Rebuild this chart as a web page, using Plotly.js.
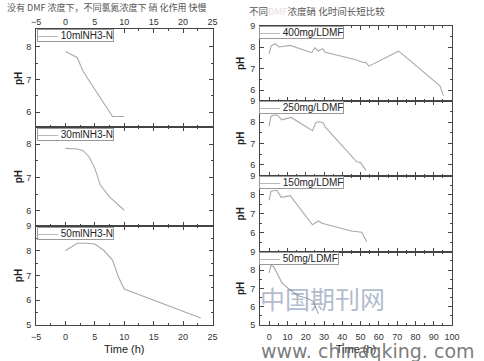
<!DOCTYPE html>
<html><head><meta charset="utf-8">
<script src="https://cdn.plot.ly/plotly-3.0.1.min.js"></script>
<style>body{margin:0;background:#fff}#c{width:484px;height:361px}</style>
</head><body><div id="c"></div>
<script>
// ---- data ----
const names = ["10mlNH3-N", "30mlNH3-N", "50mlNH3-N", "400mg/LDMF", "250mg/LDMF", "150mg/LDMF", "50mg/LDMF"];
const t10 = [0, 2, 3, 5, 7, 8, 10];
const ph10 = [7.85, 7.67, 7.25, 6.7, 6.15, 5.87, 5.87];
const t30 = [0, 2, 3, 4, 5, 5.9, 7.5, 10];
const ph30 = [7.87, 7.85, 7.8, 7.62, 7.28, 6.78, 6.42, 6.02];
const t50 = [0, 2, 3.5, 5, 6.5, 8, 9, 10, 23];
const ph50 = [8.0, 8.3, 8.3, 8.27, 8.02, 7.62, 6.95, 6.45, 5.28];
const d400t = [0, 1, 3.3, 5.5, 11.5, 23.3, 25, 27, 29.3, 30.6, 47, 51.5, 52.8, 54.6, 70.7, 74.3, 93.4, 95.3];
const d400 = [7.68, 8.06, 8.17, 8.02, 8.09, 7.75, 7.98, 7.83, 7.94, 7.77, 7.43, 7.29, 7.3, 7.12, 7.82, 7.58, 6.2, 5.74];
const d250t = [0, 1, 3.3, 4.7, 6.9, 12, 23.7, 25.5, 27.3, 29.5, 30.6, 47.9, 50.1, 53];
const d250 = [7.81, 8.28, 8.34, 8.31, 8.11, 8.22, 7.6, 7.97, 8.02, 7.97, 7.78, 6.15, 6.1, 5.74];
const d150t = [0, 1, 4.2, 6.6, 11.5, 23.7, 27, 28.8, 45, 50.6, 53.4];
const d150 = [7.7, 8.18, 8.23, 7.86, 7.95, 6.42, 6.62, 6.5, 6.09, 6.02, 5.53];
const d50t = [0, 1, 2.5, 4, 7, 11, 16, 21, 24, 27];
const d50 = [7.85, 8.25, 8.18, 7.9, 7.3, 6.95, 6.6, 6.45, 6.3, 5.6];
const leftTitle = "没有 DMF 浓度下，不同氯氮浓度下 硝 化作用 快慢";
const rightTitle = '不同<span style="color:#e6dcdc">DMF</span>浓度硝 化时间长短比较';
const xTitle = "Time (h)";
const yTitle = "pH";

// ---- layout helpers ----
const W = 484, H = 361;
const yd = (top, bot) => [(H - bot) / H, (H - top) / H];
const xL = [36 / W, 212.5 / W], xR = [260 / W, 452 / W];
const lineCol = "#a9a9a9";
const frame = "#444";
const tfont = {family: "Arial, Liberation Sans, sans-serif", size: 9, color: "#333"};

const series = [
  [t10, ph10], [t30, ph30], [t50, ph50],
  [d400t, d400], [d250t, d250], [d150t, d150], [d50t, d50]
];
const traces = series.map((s, i) => ({
  type: "scatter", mode: "lines", x: s[0], y: s[1], name: names[i],
  xaxis: i === 0 ? "x" : "x" + (i + 1), yaxis: i === 0 ? "y" : "y" + (i + 1),
  line: {color: lineCol, width: 1.1}, showlegend: false, hoverinfo: "skip"
}));

function xax(domain, range, dtick, opts) {
  return Object.assign({
    domain: domain, range: range, dtick: dtick, tick0: 0,
    showline: true, mirror: "ticks", linecolor: frame, linewidth: 1,
    ticks: "inside", ticklen: 4, tickcolor: frame, tickwidth: 1,
    minor: {ticks: "inside", ticklen: 2, dtick: dtick / 2, tickcolor: frame},
    showgrid: false, zeroline: false, showticklabels: false, tickfont: tfont,
    fixedrange: true
  }, opts || {});
}
function yax(domain, range, tickvals, anchor, standoff, opts) {
  return Object.assign({
    domain: domain, range: range, tickvals: tickvals, anchor: anchor,
    showline: true, mirror: "ticks", linecolor: frame, linewidth: 1,
    ticks: "inside", ticklen: 4, tickcolor: frame, tickwidth: 1,
    minor: {ticks: "inside", ticklen: 2, dtick: 0.5, tick0: 0, tickcolor: frame},
    showgrid: false, zeroline: false, tickfont: tfont, ticklabelstandoff: 2,
    title: {text: yTitle, font: {family: "Arial, sans-serif", size: 10, color: "#222", weight: "bold"}, standoff: standoff},
    fixedrange: true
  }, opts || {});
}

const dL1 = yd(29.3, 127.3), dL2 = yd(127.3, 226), dL3 = yd(226, 325);
const dR1 = yd(26, 100.7), dR2 = yd(100.7, 175.7), dR3 = yd(175.7, 251.7), dR4 = yd(251.7, 325);

const layout = {
  width: W, height: H, margin: {l: 0, r: 0, t: 0, b: 0},
  paper_bgcolor: "#fff", plot_bgcolor: "#fff", showlegend: false,
  font: {family: "Arial, sans-serif"},
  xaxis:  xax(xL, [-5, 25], 5, {anchor: "y", side: "top", showticklabels: true}),
  xaxis2: xax(xL, [-5, 25], 5, {anchor: "y2"}),
  xaxis3: xax(xL, [-5, 25], 5, {anchor: "y3", showticklabels: true, ticklabelstandoff: 3,
           title: {text: xTitle, font: {family: "Arial, sans-serif", size: 11, color: "#222"}, standoff: 4}}),
  xaxis4: xax(xR, [-5, 100], 10, {anchor: "y4"}),
  xaxis5: xax(xR, [-5, 100], 10, {anchor: "y5"}),
  xaxis6: xax(xR, [-5, 100], 10, {anchor: "y6"}),
  xaxis7: xax(xR, [-5, 100], 10, {anchor: "y7", showticklabels: true, ticklabelstandoff: 3,
           title: {text: xTitle, font: {family: "Arial, sans-serif", size: 11, color: "#222"}, standoff: 4}}),
  yaxis:  yax(dL1, [5.54, 8.53], [6, 7, 8], "x", 1),
  yaxis2: yax(dL2, [5.55, 8.5], [6, 7, 8], "x2", 1),
  yaxis3: yax(dL3, [5, 9], [5, 6, 7, 8, 9], "x3", 1),
  yaxis4: yax(dR1, [5.5, 9], [6, 7, 8, 9], "x4", 3),
  yaxis5: yax(dR2, [5.5, 9], [6, 7, 8, 9], "x5", 3),
  yaxis6: yax(dR3, [5, 9], [6, 7, 8, 9], "x6", 3),
  yaxis7: yax(dR4, [5, 9], [5, 6, 7, 8, 9], "x7", 3),
  annotations: []
};

// legend boxes (one per panel)
const legPos = [[37, 29.3], [37, 127.8], [37, 226.5], [259, 26.5], [259, 101.2], [259, 176.2], [259, 252.2]];
names.forEach((n, i) => {
  layout.annotations.push({
    xref: "paper", yref: "paper", x: legPos[i][0] / W, y: (H - legPos[i][1]) / H,
    xanchor: "left", yanchor: "top", showarrow: false, align: "left",
    text: '<span style="color:' + lineCol + '">——</span> ' + n,
    font: {family: "Arial, sans-serif", size: 10, color: "#222"},
    bgcolor: "#fff", bordercolor: "#999", borderwidth: 1, borderpad: 0
  });
});

// titles
layout.annotations.push({
  xref: "paper", yref: "paper", x: 107 / W, y: (H - 7) / H, xanchor: "center", yanchor: "middle",
  showarrow: false, text: leftTitle, font: {family: "Noto Sans CJK SC", size: 9, color: "#555"}
});
layout.annotations.push({
  xref: "paper", yref: "paper", x: 247 / W, y: (H - 11) / H, xanchor: "left", yanchor: "middle",
  showarrow: false, text: rightTitle, font: {family: "Noto Sans CJK SC", size: 9.5, color: "#555"}
});
// watermark
layout.annotations.push({
  xref: "paper", yref: "paper", x: 322 / W, y: (H - 298) / H, xanchor: "center", yanchor: "middle",
  showarrow: false, text: "中国期刊网", font: {family: "Noto Sans CJK SC", size: 25, color: "rgba(110,130,160,0.55)"}
});
layout.annotations.push({
  xref: "paper", yref: "paper", x: 368 / W, y: (H - 351) / H, xanchor: "center", yanchor: "middle",
  showarrow: false, text: "www. chinaqking. com", font: {family: "DejaVu Sans", size: 19, color: "rgba(100,100,100,0.85)"}
});

Plotly.newPlot("c", traces, layout, {staticPlot: true, displayModeBar: false});
</script>
</body></html>
